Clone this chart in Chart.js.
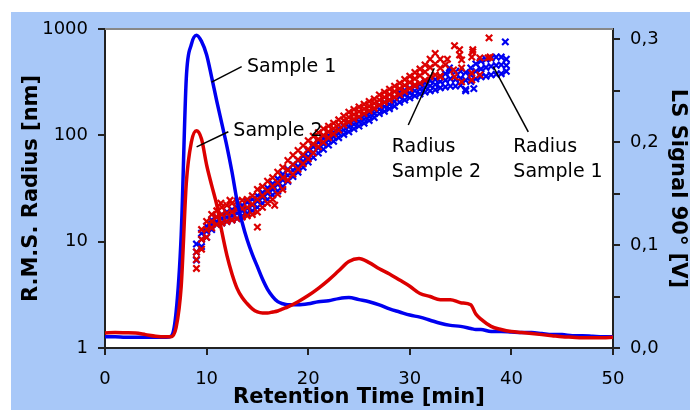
<!DOCTYPE html>
<html>
<head>
<meta charset="utf-8">
<script src="https://cdn.jsdelivr.net/npm/chart.js@4.4.1/dist/chart.umd.min.js"></script>
<style>
  html, body { margin: 0; padding: 0; background: #fff; }
</style>
</head>
<body>
<canvas id="chart" width="690" height="410"></canvas>
<script>
// LS signal 90° [V] vs retention time [min]
const lsTime = [0, 1, 2, 3, 4, 5, 6, 6.5, 7, 7.5, 8, 8.5, 9, 9.5, 10, 10.5, 11, 11.5, 12, 12.5, 13, 13.5, 14, 14.5, 15, 15.5, 16, 16.5, 17, 17.5, 18,
  19, 20, 21, 22, 23, 24, 25, 26, 27, 28, 29, 30, 31, 32, 33, 34, 35, 36, 36.5, 37, 38, 39, 40, 41, 42, 43, 44, 45, 46, 47, 48, 49, 50];
const lsSample1 = [0.011, 0.011, 0.0105, 0.0105, 0.0105, 0.0105, 0.0105, 0.0115, 0.035, 0.11, 0.262, 0.295, 0.304, 0.298, 0.285, 0.263, 0.24, 0.218, 0.196, 0.171, 0.143, 0.122, 0.105, 0.091, 0.079, 0.067, 0.057, 0.05, 0.045, 0.043, 0.042,
  0.042, 0.043, 0.045, 0.046, 0.048, 0.049, 0.047, 0.045, 0.042, 0.038, 0.035, 0.032, 0.03, 0.027, 0.024, 0.022, 0.021, 0.019, 0.018, 0.018, 0.016, 0.016, 0.0155, 0.015, 0.015, 0.014, 0.013, 0.013, 0.012, 0.012, 0.0115, 0.011, 0.011];
const lsSample2 = [0.0146, 0.015, 0.0148, 0.0145, 0.013, 0.0115, 0.011, 0.011, 0.02, 0.06, 0.16, 0.2, 0.211, 0.203, 0.178, 0.158, 0.139, 0.113, 0.09, 0.072, 0.058, 0.049, 0.043, 0.038, 0.035, 0.034, 0.034, 0.035, 0.036, 0.038, 0.04,
  0.045, 0.051, 0.058, 0.066, 0.075, 0.084, 0.087, 0.083, 0.077, 0.072, 0.066, 0.06, 0.053, 0.05, 0.047, 0.047, 0.044, 0.042, 0.033, 0.028, 0.021, 0.018, 0.016, 0.015, 0.014, 0.013, 0.012, 0.011, 0.0105, 0.01, 0.01, 0.01, 0.0105];

// R.M.S. radius [nm], sample 1 (lower edge, middle and upper edge of the point cloud)
const radius1Time = [9, 9.5, 10, 10.5, 11, 11.5, 12, 12.5, 13, 13.5, 14, 14.5, 15, 15.5, 16, 16.5, 17, 17.5, 18, 18.5, 19, 19.5, 20, 20.5, 21, 21.5, 22, 22.5, 23, 23.5,
  24, 24.5, 25, 25.5, 26, 26.5, 27, 27.5, 28, 28.5, 29, 29.5, 30, 30.5, 31, 31.5, 32, 32.5, 33, 33.5, 34, 34.5, 35, 35.5, 36, 36.5, 37, 37.5, 38, 38.5, 39, 39.5];
const radius1Low = [6.7, 9, 11, 13, 14.5, 15, 15.5, 16, 16.5, 17.5, 18.5, 19.5, 21, 23, 25, 27.5, 30, 33, 37, 41, 45, 50, 56, 62, 68, 74, 81, 88, 95, 102,
  108, 115, 122, 130, 138, 147, 160, 168, 178, 188, 205, 215, 225, 235, 245, 255, 262, 268, 280, 285, 290, 290, 295, 270, 320, 340, 355, 360, 370, 375, 380, 400];
const radius1Mid = [8, 10.5, 12.5, 14.5, 15.5, 16.5, 17, 17.5, 18.5, 19.5, 20.5, 22, 24, 26, 28.5, 31, 34.5, 38, 42, 47, 51, 57, 63, 69, 76, 83, 90, 97, 104, 112,
  120, 127, 134, 142, 151, 160, 176, 186, 196, 207, 230, 240, 250, 262, 272, 283, 292, 300, 320, 330, 340, 335, 345, 330, 370, 400, 420, 435, 445, 455, 460, 455];
const radius1High = [9.5, 12, 14, 16, 17, 18, 19, 20, 21, 22, 23.5, 25, 27, 29, 32, 35, 39, 43, 48, 53, 58, 64, 71, 78, 86, 93, 100, 107, 115, 123,
  131, 139, 147, 155, 164, 174, 192, 205, 215, 226, 255, 265, 278, 290, 300, 312, 325, 335, 360, 380, 400, 395, 400, 390, 430, 470, 500, 520, 530, 545, 545, 520];
const radius1ExtraTime = [33.9, 35.5, 36.3, 39.4];
const radius1Extra = [430, 262, 275, 757];

// R.M.S. radius [nm], sample 2
const radius2Time = [9, 9.5, 10, 10.5, 11, 11.5, 12, 12.5, 13, 13.5, 14, 14.5, 15, 15.5, 16, 16.5, 17, 17.5, 18, 18.5, 19, 19.5, 20, 20.5, 21, 21.5, 22, 22.5, 23, 23.5,
  24, 24.5, 25, 25.5, 26, 26.5, 27, 27.5, 28, 28.5, 29, 29.5, 30, 30.5, 31, 31.5, 32, 32.5, 33];
const radius2Low = [5.6, 8.5, 11, 13.5, 14.5, 15, 15.5, 16, 16.5, 17, 17.5, 18, 19, 21, 23, 25, 28, 31, 38, 43, 48, 54, 60, 68, 78, 86, 95, 103, 112, 125,
  134, 142, 150, 160, 170, 180, 192, 204, 215, 228, 242, 258, 275, 292, 310, 330, 355, 370, 360];
const radius2Mid = [6.8, 10.5, 13, 15.5, 17, 18, 18.5, 19, 20, 20.5, 21, 22.5, 25, 27, 30, 33, 36, 40, 47, 53, 59, 66, 74, 83, 92, 100, 108, 116, 125, 138,
  148, 157, 167, 177, 188, 200, 215, 228, 242, 258, 275, 295, 315, 340, 365, 395, 435, 470, 430];
const radius2High = [8, 13, 15.5, 18, 19.5, 21, 22, 23, 24, 24.5, 25, 27, 31, 33, 37, 40, 45, 50, 58, 65, 72, 80, 89, 98, 106, 115, 122, 130, 140, 152,
  165, 175, 185, 196, 208, 220, 240, 255, 272, 290, 310, 335, 360, 390, 420, 460, 520, 590, 520];
const radius2ExtraTime = [11.4, 12.3, 15, 16.7, 30.5, 33, 33.5, 33.7, 34.3, 34.4, 34.4, 34.9, 34.9, 35.1, 35.1, 35.1, 36.1, 36.1, 36.1, 36.2, 36.2, 36.9, 36.9, 37.7, 37.8, 37.9];
const radius2Extra = [23, 24.5, 13.7, 22, 298, 355, 460, 520, 412, 696, 355, 570, 640, 512, 318, 430, 545, 386, 332, 609, 640, 535, 370, 535, 825, 545];

const radiusTicks = [1, 10, 100, 1000];

const notes = [
  {text: ['Sample 1'], x: 13.98, y: [443], from: [13.45, 443], to: [10.49, 316]},
  {text: ['Sample 2'], x: 12.63, y: [109], from: [12.14, 108], to: [9.02, 78]},
  {text: ['Radius', 'Sample 2'], x: 28.22, y: [78, 45.5], from: [29.85, 125], to: [32.41, 428]},
  {text: ['Radius', 'Sample 1'], x: 40.19, y: [78, 45.5], from: [41.66, 108], to: [38.22, 443]}
];

const pts = (xs, ys) => xs.map((x, i) => ({x: x, y: ys[i]}));

const BLUE = '#0000f0';
const RED = '#dc0000';
const tickFont = {family: 'DejaVu Sans', size: 18};
const titleFont = {family: 'DejaVu Sans', size: 21, weight: 'bold'};

const frame = {
  id: 'frame',
  beforeDraw(chart) {
    const {ctx, chartArea: a} = chart;
    ctx.save();
    ctx.fillStyle = '#ffffff';
    ctx.fillRect(0, 0, chart.width, chart.height);
    ctx.fillStyle = '#a8c8f8';
    ctx.fillRect(11, 12, chart.width - 11, chart.height - 12);
    ctx.fillStyle = '#ffffff';
    ctx.fillRect(a.left, a.top, a.right - a.left, a.bottom - a.top);
    ctx.restore();
  },
  afterDraw(chart) {
    const {ctx, chartArea: a} = chart;
    ctx.save();
    ctx.strokeStyle = '#888888';
    ctx.lineWidth = 2;
    ctx.beginPath();
    ctx.moveTo(a.left, a.top);
    ctx.lineTo(a.right, a.top);
    ctx.stroke();

    const xs = chart.scales.x, ys = chart.scales.y;
    ctx.strokeStyle = '#000';
    ctx.lineWidth = 1.5;
    ctx.fillStyle = '#000';
    ctx.font = '19px "DejaVu Sans"';
    ctx.textAlign = 'left';
    ctx.textBaseline = 'middle';
    notes.forEach(n => {
      ctx.beginPath();
      ctx.moveTo(xs.getPixelForValue(n.from[0]), ys.getPixelForValue(n.from[1]));
      ctx.lineTo(xs.getPixelForValue(n.to[0]), ys.getPixelForValue(n.to[1]));
      ctx.stroke();
      n.text.forEach((t, i) => {
        ctx.fillText(t, xs.getPixelForValue(n.x), ys.getPixelForValue(n.y[i]));
      });
    });
    ctx.restore();
  }
};

const scatterStyle = (color, order) => ({
  type: 'line',
  showLine: false,
  yAxisID: 'y',
  pointStyle: 'crossRot',
  pointRadius: 4.5,
  pointBorderWidth: 2.2,
  borderColor: color,
  backgroundColor: color,
  order: order
});

const lineStyle = (color, order) => ({
  type: 'line',
  yAxisID: 'y2',
  borderColor: color,
  borderWidth: 3.5,
  pointRadius: 0,
  cubicInterpolationMode: 'monotone',
  order: order
});

new Chart(document.getElementById('chart'), {
  type: 'line',
  data: {
    datasets: [
      Object.assign({label: 'Sample 2', data: pts(lsTime, lsSample2)}, lineStyle(RED, 0)),
      Object.assign({label: 'Sample 1', data: pts(lsTime, lsSample1)}, lineStyle(BLUE, 1)),
      Object.assign({label: 'Radius Sample 2',
        data: pts(radius2Time, radius2Low).concat(pts(radius2Time, radius2Mid), pts(radius2Time, radius2High), pts(radius2ExtraTime, radius2Extra))},
        scatterStyle(RED, 2)),
      Object.assign({label: 'Radius Sample 1',
        data: pts(radius1Time, radius1Low).concat(pts(radius1Time, radius1Mid), pts(radius1Time, radius1High), pts(radius1ExtraTime, radius1Extra))},
        scatterStyle(BLUE, 3))
    ]
  },
  options: {
    responsive: false,
    animation: false,
    layout: {padding: {top: 29, left: 0, right: 0, bottom: 0}},
    plugins: {
      legend: {display: false},
      tooltip: {enabled: false}
    },
    scales: {
      x: {
        type: 'linear',
        min: 0,
        max: 50,
        ticks: {stepSize: 10, color: '#000', font: tickFont, padding: 14, maxRotation: 0},
        grid: {drawOnChartArea: false, color: '#222', lineWidth: 2, tickLength: 7},
        border: {color: '#222', width: 2},
        title: {display: true, text: 'Retention Time [min]', color: '#000', font: titleFont, padding: {top: 0, bottom: 0}},
        afterFit: s => { s.height = 62; }
      },
      y: {
        type: 'logarithmic',
        position: 'left',
        min: 1,
        max: 1000,
        afterBuildTicks: s => { s.ticks = radiusTicks.map(v => ({value: v})); },
        ticks: {color: '#000', font: tickFont, padding: 10, callback: v => String(v)},
        grid: {drawOnChartArea: false, color: '#222', lineWidth: 2, tickLength: 7},
        border: {color: '#222', width: 2},
        title: {display: true, text: 'R.M.S. Radius [nm]', color: '#000', font: titleFont, padding: {top: 19, bottom: 0}},
        afterFit: s => { s.width = 105; }
      },
      y2: {
        type: 'linear',
        position: 'right',
        min: 0,
        max: 0.31,
        ticks: {
          stepSize: 0.05,
          includeBounds: false,
          color: '#000',
          font: tickFont,
          padding: 10,
          callback: v => {
            const k = Math.round(v * 20);
            return k % 2 === 0 ? (k / 20).toFixed(1).replace('.', ',') : '';
          }
        },
        grid: {drawOnChartArea: false, color: '#222', lineWidth: 2, tickLength: 7},
        border: {color: '#222', width: 2},
        title: {display: true, text: 'LS Signal 90° [V]', color: '#000', font: titleFont, padding: {top: 0, bottom: 0}},
        afterFit: s => { s.width = 77; }
      }
    }
  },
  plugins: [frame]
});
</script>
</body>
</html>
